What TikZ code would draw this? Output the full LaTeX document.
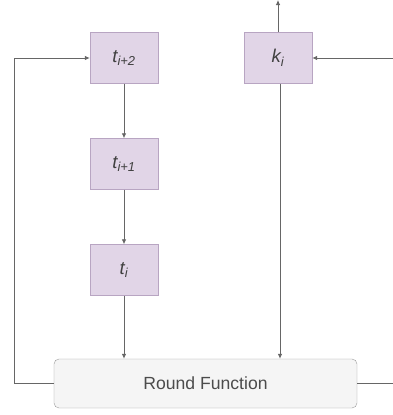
\documentclass[tikz,border=0pt]{standalone}
\usepackage{fontspec}
\setmainfont{Liberation Sans}
\usetikzlibrary{arrows.meta,positioning,calc}
\definecolor{boxfill}{HTML}{E1D5E7}
\definecolor{boxline}{HTML}{B8A5C2}
\definecolor{rffill}{HTML}{F5F5F5}
\definecolor{rfline}{HTML}{999999}
\definecolor{wire}{HTML}{666666}

\begin{document}
\begin{tikzpicture}[x=1pt, y=-1pt,
    regbox/.style={draw=boxline, fill=boxfill, minimum width=68pt, minimum height=51pt,
        inner sep=0pt, font=\fontsize{18.5}{21}\selectfont\itshape, text=black!75},
    roundbox/.style={draw=rfline, fill=rffill, rounded corners=5pt, minimum width=303pt,
        minimum height=49pt, inner sep=0pt, font=\fontsize{17.6}{20}\selectfont, text=black!70},
    arr/.style={draw=wire, line width=0.8pt, -{Latex[length=5pt,width=4.5pt]}},
    wireline/.style={draw=wire, line width=0.8pt}]
    \useasboundingbox (0,0) rectangle (393,415);
    % registers
    \node[regbox] (t2) at (124,58) {t\textsubscript{i+2}};
    \node[regbox] (t1) at (124,164) {t\textsubscript{i+1}};
    \node[regbox] (t0) at (124,270) {t\textsubscript{i}};
    \node[regbox] (k) at (278,58) {k\textsubscript{i}};
    % round function
    \node[roundbox] (rf) at (205.5,383.5) {Round Function};
    % free ends
    \coordinate (kout) at (278,0);
    \coordinate (kin) at (393,58);
    \coordinate (rfout) at (393,383.5);
    \coordinate (loop) at (14,383.5);
    % shift chain
    \draw[arr] (t2) -- (t1);
    \draw[arr] (t1) -- (t0);
    \draw[arr] (t0) -- (t0 |- rf.north);
    % key path
    \draw[arr] (k) -- (kout);
    \draw[arr] (kin) -- (k);
    \draw[arr] ([xshift=2pt]k.south) -- ([xshift=2pt]k.south |- rf.north);
    % feedback and output
    \draw[arr] (rf.west) -- (loop) |- (t2.west);
    \draw[wireline] (rf.east) -- (rfout);
\end{tikzpicture}
\end{document}
